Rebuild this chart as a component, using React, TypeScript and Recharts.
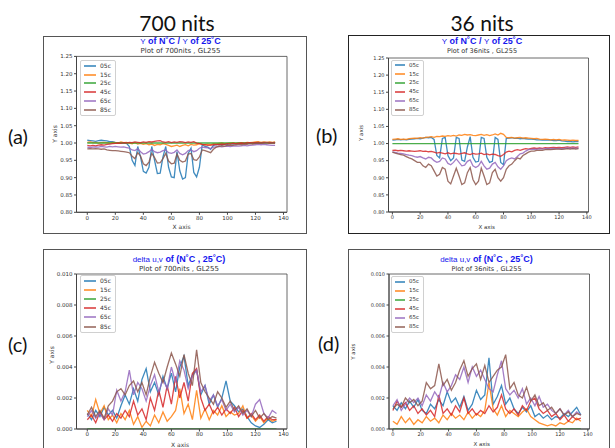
import React from 'react'
import { LineChart, Line, XAxis, YAxis, Legend, ReferenceArea } from 'recharts'

// series names / colours (matplotlib tab10)
const SERIES = ['05c', '15c', '25c', '45c', '65c', '85c']
const COLORS = ['#1f77b4', '#ff7f0e', '#2ca02c', '#d62728', '#9467bd', '#8c564b']

const X_TICKS = [0, 20, 40, 60, 80, 100, 120, 140]
const RATIO_TICKS = [0.8, 0.85, 0.9, 0.95, 1.0, 1.05, 1.1, 1.15, 1.2, 1.25]
// delta u,v ticks, in units of 0.001
const DUV_TICKS = [0, 2, 4, 6, 8, 10]

// x positions for the ratio plots (a, b)
const X_RATIO = [
  0, 2, 4, 6, 8, 10, 12, 14, 16, 18,
  20, 22, 24, 26, 28, 30, 32, 34, 36, 38,
  40, 42, 44, 46, 48, 50, 52, 54, 56, 58,
  60, 62, 64, 66, 68, 70, 72, 74, 76, 78,
  80, 82, 84, 86, 88, 90, 92, 94, 96, 98,
  100, 102, 104, 106, 108, 110, 112, 114, 116, 118,
  120, 122, 124, 126, 128, 130, 132, 134,
]
// x positions for the delta u,v plots (c, d)
const X_DUV = [
  0, 3, 6, 9, 12, 15, 18, 21, 24, 27,
  30, 33, 36, 39, 42, 45, 48, 51, 54, 57,
  60, 63, 66, 69, 72, 75, 78, 81, 84, 87,
  90, 93, 96, 99, 102, 105, 108, 111, 114, 117,
  120, 123, 126, 129, 132, 135,
]

// (a) Y of N°C / Y of 25°C, 700 nits
const A_05 = [
  1.008, 1.007, 1.006, 1.005, 1.007, 1.008, 1.007, 1.006, 1.004, 1.004,
  1.002, 1.001, 1.000, 1.000, 0.999, 0.990, 0.950, 0.935, 0.990, 0.960,
  0.918, 0.913, 0.930, 0.990, 0.950, 0.912, 0.913, 0.960, 0.990, 0.930,
  0.902, 0.900, 0.975, 0.920, 0.896, 0.900, 0.970, 0.985, 0.915, 0.902,
  0.930, 0.995, 0.990, 0.988, 0.982, 0.993, 0.995, 0.996, 0.995, 0.997,
  0.996, 0.998, 0.997, 0.998, 0.999, 0.998, 0.999, 1.000, 0.999, 1.000,
  1.001, 1.000, 1.001, 1.002, 1.001, 1.002, 1.001, 1.002,
]
const A_15 = [
  1.002, 1.003, 1.001, 1.002, 1.000, 1.001, 1.002, 1.001, 1.000, 1.002,
  1.001, 1.000, 1.003, 1.001, 1.002, 1.000, 0.998, 1.001, 0.997, 0.999,
  0.996, 0.998, 0.995, 0.997, 0.993, 0.996, 0.995, 0.998, 0.996, 0.993,
  0.990, 0.992, 0.994, 0.990, 0.993, 0.995, 0.992, 0.996, 0.994, 0.995,
  0.998, 0.996, 0.995, 0.997, 0.995, 0.998, 0.997, 0.999, 1.000, 0.998,
  0.999, 1.000, 1.001, 0.999, 1.000, 1.001, 1.000, 1.002, 1.001, 1.002,
  1.003, 1.004, 1.002, 1.003, 1.002, 1.003, 1.002, 1.003,
]
const A_25 = [
  1.000, 1.000, 1.000, 1.000, 1.000, 1.000, 1.000, 1.000, 1.000, 1.000,
  1.000, 1.000, 1.000, 1.000, 1.000, 1.000, 1.000, 1.000, 1.000, 1.000,
  1.000, 1.000, 1.000, 1.000, 1.000, 1.000, 1.000, 1.000, 1.000, 1.000,
  1.000, 1.000, 1.000, 1.000, 1.000, 1.000, 1.000, 1.000, 1.000, 1.000,
  1.000, 1.000, 1.000, 1.000, 1.000, 1.000, 1.000, 1.000, 1.000, 1.000,
  1.000, 1.000, 1.000, 1.000, 1.000, 1.000, 1.000, 1.000, 1.000, 1.000,
  1.000, 1.000, 1.000, 1.000, 1.000, 1.000, 1.000, 1.000,
]
const A_45 = [
  0.993, 0.992, 0.993, 0.992, 0.994, 0.995, 0.994, 0.996, 0.997, 0.998,
  0.999, 1.000, 0.999, 1.001, 1.000, 1.002, 1.001, 1.003, 1.002, 1.001,
  1.003, 1.002, 1.004, 1.003, 1.005, 1.006, 1.007, 1.003, 1.002, 1.004,
  1.001, 1.003, 1.002, 1.004, 1.003, 1.001, 1.003, 1.002, 1.004, 1.000,
  0.998, 0.996, 0.995, 0.993, 0.994, 0.995, 0.996, 0.995, 0.997, 0.996,
  0.998, 0.997, 0.999, 0.998, 0.999, 1.000, 0.999, 1.000, 1.001, 1.000,
  1.001, 1.002, 1.000, 1.001, 1.002, 1.000, 1.001, 1.000,
]
const A_65 = [
  0.988, 0.987, 0.988, 0.989, 0.988, 0.990, 0.989, 0.988, 0.990, 0.989,
  0.990, 0.989, 0.988, 0.989, 0.987, 0.985, 0.980, 0.978, 0.984, 0.975,
  0.968, 0.970, 0.975, 0.982, 0.975, 0.972, 0.974, 0.978, 0.980, 0.972,
  0.970, 0.973, 0.980, 0.970, 0.966, 0.970, 0.978, 0.980, 0.975, 0.978,
  0.985, 0.988, 0.987, 0.986, 0.984, 0.988, 0.989, 0.990, 0.989, 0.990,
  0.991, 0.990, 0.991, 0.992, 0.991, 0.992, 0.993, 0.992, 0.993, 0.994,
  0.995, 0.996, 0.995, 0.996, 0.995, 0.994, 0.993, 0.993,
]
const A_85 = [
  0.983, 0.984, 0.983, 0.984, 0.983, 0.982, 0.983, 0.980, 0.979, 0.978,
  0.978, 0.977, 0.976, 0.975, 0.974, 0.972, 0.962, 0.955, 0.972, 0.962,
  0.940, 0.935, 0.945, 0.970, 0.958, 0.942, 0.943, 0.955, 0.970, 0.948,
  0.940, 0.942, 0.968, 0.950, 0.945, 0.948, 0.968, 0.970, 0.952, 0.950,
  0.960, 0.980, 0.978, 0.975, 0.972, 0.982, 0.988, 0.990, 0.992, 0.991,
  0.993, 0.994, 0.993, 0.995, 0.996, 0.995, 0.997, 0.996, 0.998, 0.997,
  0.999, 1.000, 0.999, 1.000, 1.001, 0.999, 1.000, 1.000,
]

// (b) Y of N°C / Y of 25°C, 36 nits
const B_05 = [
  1.010, 1.011, 1.012, 1.011, 1.012, 1.011, 1.012, 1.013, 1.014, 1.015,
  1.014, 1.016, 1.018, 1.017, 1.018, 1.012, 0.965, 0.958, 1.015, 1.018,
  0.965, 0.950, 0.958, 1.018, 1.015, 0.952, 0.948, 0.990, 1.020, 0.960,
  0.946, 0.948, 1.018, 1.015, 0.960, 0.945, 0.948, 1.018, 1.012, 0.945,
  0.938, 1.015, 1.016, 1.017, 1.015, 1.016, 1.014, 1.015, 1.014, 1.013,
  1.013, 1.012, 1.011, 1.011, 1.010, 1.010, 1.011, 1.010, 1.009, 1.009,
  1.010, 1.008, 1.007, 1.006, 1.006, 1.005, 1.006, 1.006,
]
const B_15 = [
  1.012, 1.013, 1.014, 1.012, 1.013, 1.012, 1.014, 1.015, 1.016, 1.015,
  1.017, 1.016, 1.018, 1.019, 1.020, 1.018, 1.021, 1.020, 1.022, 1.021,
  1.023, 1.022, 1.024, 1.022, 1.025, 1.024, 1.027, 1.025, 1.026, 1.024,
  1.023, 1.025, 1.027, 1.024, 1.026, 1.023, 1.025, 1.028, 1.025, 1.030,
  1.027, 1.018, 1.017, 1.018, 1.016, 1.017, 1.018, 1.016, 1.017, 1.016,
  1.015, 1.014, 1.015, 1.013, 1.012, 1.013, 1.012, 1.011, 1.012, 1.011,
  1.012, 1.010, 1.011, 1.010, 1.009, 1.010, 1.009, 1.009,
]
const B_25 = [
  1.000, 1.000, 1.000, 1.000, 1.000, 1.000, 1.000, 1.000, 1.000, 1.000,
  1.000, 1.000, 1.000, 1.000, 1.000, 1.000, 1.000, 1.000, 1.000, 1.000,
  1.000, 1.000, 1.000, 1.000, 1.000, 1.000, 1.000, 1.000, 1.000, 1.000,
  1.000, 1.000, 1.000, 1.000, 1.000, 1.000, 1.000, 1.000, 1.000, 1.000,
  1.000, 1.000, 1.000, 1.000, 1.000, 1.000, 1.000, 1.000, 1.000, 1.000,
  1.000, 1.000, 1.000, 1.000, 1.000, 1.000, 1.000, 1.000, 1.000, 1.000,
  1.000, 1.000, 1.000, 1.000, 1.000, 1.000, 1.000, 1.000,
]
const B_45 = [
  0.980, 0.981, 0.979, 0.980, 0.979, 0.978, 0.979, 0.978, 0.977, 0.978,
  0.979, 0.977, 0.978, 0.976, 0.977, 0.975, 0.972, 0.974, 0.972, 0.970,
  0.973, 0.970, 0.972, 0.971, 0.969, 0.971, 0.973, 0.970, 0.968, 0.971,
  0.969, 0.970, 0.972, 0.968, 0.970, 0.967, 0.969, 0.968, 0.965, 0.963,
  0.968, 0.975, 0.978, 0.976, 0.980, 0.982, 0.980, 0.983, 0.985, 0.984,
  0.986, 0.987, 0.986, 0.987, 0.986, 0.988, 0.987, 0.988, 0.989, 0.988,
  0.989, 0.988, 0.989, 0.990, 0.989, 0.990, 0.989, 0.990,
]
const B_65 = [
  0.976, 0.974, 0.972, 0.971, 0.970, 0.968, 0.966, 0.965, 0.962, 0.960,
  0.962, 0.958, 0.955, 0.960, 0.958, 0.950, 0.945, 0.948, 0.958, 0.955,
  0.942, 0.938, 0.945, 0.955, 0.945, 0.935, 0.937, 0.948, 0.952, 0.935,
  0.930, 0.935, 0.948, 0.935, 0.925, 0.928, 0.940, 0.945, 0.932, 0.925,
  0.935, 0.950, 0.955, 0.958, 0.955, 0.962, 0.970, 0.972, 0.978, 0.982,
  0.983, 0.984, 0.983, 0.985, 0.984, 0.985, 0.986, 0.985, 0.986, 0.985,
  0.986, 0.985, 0.986, 0.987, 0.986, 0.987, 0.986, 0.987,
]
const B_85 = [
  0.975, 0.972, 0.970, 0.968, 0.966, 0.962, 0.958, 0.955, 0.950, 0.945,
  0.945, 0.935, 0.930, 0.940, 0.935, 0.920, 0.905, 0.910, 0.930, 0.925,
  0.890, 0.882, 0.905, 0.928, 0.905, 0.880, 0.885, 0.915, 0.930, 0.895,
  0.880, 0.890, 0.928, 0.905, 0.880, 0.885, 0.915, 0.925, 0.900, 0.890,
  0.900, 0.925, 0.935, 0.940, 0.950, 0.958, 0.955, 0.965, 0.970, 0.975,
  0.978, 0.978, 0.980, 0.981, 0.980, 0.982, 0.983, 0.982, 0.983, 0.984,
  0.984, 0.983, 0.984, 0.985, 0.984, 0.985, 0.984, 0.985,
]

// (c) delta u,v of (N°C, 25°C), 700 nits — values in 0.001
const C_05 = [
  1.0, 0.6, 1.2, 0.8, 1.4, 0.9, 1.2, 0.7, 1.5, 2.2,
  1.6, 2.6, 1.8, 3.2, 3.9, 2.4, 3.0, 2.2, 3.4, 2.6,
  3.6, 2.4, 4.0, 4.7, 2.8, 3.5, 3.8, 2.2, 2.8, 1.6,
  2.2, 1.4, 2.0, 3.1, 1.8, 1.5, 1.1, 1.3, 0.8, 0.4,
  0.2, 0.1, 0.3, 0.6, 0.4, 0.5,
]
const C_15 = [
  1.2, 0.8, 1.9, 1.0, 1.5, 0.6, 0.9, 0.4, 1.0, 0.6,
  1.2, 0.3, 0.8, 0.1, 0.5, 0.2, 0.9, 0.4, 1.1, 0.5,
  0.8, 1.2, 2.6, 1.0, 1.6, 0.6, 2.5, 0.7, 1.3, 0.6,
  1.2, 0.9, 1.5, 0.8, 1.1, 0.9, 1.0, 1.5, 0.7, 0.9,
  0.5, 0.8, 0.4, 0.7, 0.5, 0.6,
]
const C_25 = [
  0, 0, 0, 0, 0, 0, 0, 0, 0, 0,
  0, 0, 0, 0, 0, 0, 0, 0, 0, 0,
  0, 0, 0, 0, 0, 0, 0, 0, 0, 0,
  0, 0, 0, 0, 0, 0, 0, 0, 0, 0,
  0, 0, 0, 0, 0, 0,
]
const C_45 = [
  0.6, 0.9, 0.4, 1.1, 0.6, 0.9, 0.5, 1.0, 0.7, 1.2,
  0.8, 1.8, 0.9, 1.3, 0.6, 2.0, 1.2, 2.5, 1.4, 2.8,
  1.6, 3.4, 2.0, 3.0, 1.8, 3.6, 3.9, 2.0, 1.2, 1.6,
  1.0, 1.4, 0.9, 1.3, 1.0, 1.4, 0.8, 1.2, 0.7, 1.0,
  0.6, 0.9, 0.5, 0.8, 0.6, 0.6,
]
const C_65 = [
  0.8, 1.2, 0.7, 1.0, 0.6, 1.3, 0.9, 2.5, 1.8, 2.4,
  3.8, 2.2, 3.0, 2.6, 1.8, 2.8, 3.5, 2.4, 3.2, 2.6,
  4.0, 3.0, 4.4, 3.8, 2.6, 3.4, 3.8, 2.4, 2.8, 1.8,
  2.2, 1.5, 1.9, 1.2, 1.6, 1.1, 1.4, 0.9, 1.2, 0.8,
  1.6, 1.9, 1.0, 0.7, 1.2, 1.0,
]
const C_85 = [
  0.9, 1.4, 0.8, 1.2, 0.7, 1.5, 1.8, 2.4, 2.6, 2.2,
  2.8, 3.1, 2.4, 3.0, 2.2, 3.4, 4.3, 3.6, 3.0, 4.0,
  4.9, 4.2, 3.4, 4.8, 3.6, 2.8, 5.1, 3.0, 2.4, 2.0,
  1.6, 2.4, 2.0, 1.4, 1.8, 1.2, 1.5, 1.0, 1.3, 0.8,
  1.2, 0.7, 1.0, 0.6, 0.8, 0.7,
]

// (d) delta u,v of (N°C, 25°C), 36 nits — values in 0.001
const D_05 = [
  1.5, 1.2, 1.7, 1.3, 1.8, 1.4, 1.9, 1.2, 1.0, 1.6,
  1.3, 1.9, 1.5, 2.4, 1.7, 2.0, 1.4, 2.1, 1.2, 1.6,
  2.5, 1.9, 2.2, 4.6, 1.6, 2.1, 2.8, 1.6, 2.0, 1.3,
  1.0, 1.4, 1.1, 1.5, 0.8, 1.0, 0.7, 0.9, 0.6, 0.8,
  0.7, 1.0, 0.8, 1.1, 1.4, 0.9,
]
const D_15 = [
  0.5, 0.3, 0.8, 0.4, 0.7, 0.3, 0.6, 0.4, 0.8, 0.5,
  0.7, 0.4, 0.9, 0.6, 1.0, 0.7, 0.9, 0.6, 1.1, 0.7,
  1.0, 0.8, 1.2, 3.0, 1.3, 0.9, 1.5, 0.8, 1.2, 1.0,
  0.8, 1.1, 1.3, 0.8, 0.6, 0.4, 0.3, 0.2, 0.3, 0.2,
  0.4, 0.3, 0.5, 0.4, 0.7, 0.5,
]
const D_25 = [
  0, 0, 0, 0, 0, 0, 0, 0, 0, 0,
  0, 0, 0, 0, 0, 0, 0, 0, 0, 0,
  0, 0, 0, 0, 0, 0, 0, 0, 0, 0,
  0, 0, 0, 0, 0, 0, 0, 0, 0, 0,
  0, 0, 0, 0, 0, 0,
]
const D_45 = [
  1.2, 1.8, 1.4, 1.7, 1.2, 1.5, 1.0, 1.3, 0.9, 1.2,
  0.8, 2.2, 1.0, 1.3, 0.9, 1.5, 1.1, 2.0, 1.0, 1.3,
  0.9, 1.2, 1.0, 1.5, 1.1, 1.4, 2.2, 1.3, 1.0, 1.3,
  0.9, 1.5, 1.2, 1.8, 2.0, 1.3, 1.0, 1.2, 0.8, 1.0,
  0.6, 0.9, 0.5, 0.8, 0.6, 0.7,
]
const D_65 = [
  1.5, 1.9, 1.2, 1.6, 2.0, 1.7, 2.0, 1.5, 2.2, 1.8,
  2.4, 2.0, 3.0, 2.4, 2.8, 3.5, 3.2, 4.0, 3.0, 4.0,
  3.4, 3.8, 3.2, 2.6, 2.4, 3.5, 4.4, 2.6, 2.2, 2.5,
  2.0, 2.6, 1.6, 2.0, 1.5, 2.1, 1.4, 1.6, 1.2, 1.0,
  1.3, 0.9, 1.2, 0.8, 1.1, 0.9,
]
const D_85 = [
  1.3, 1.6, 1.4, 2.0, 1.7, 1.9, 1.5, 1.8, 3.0, 2.6,
  2.8, 4.2, 2.8, 3.2, 2.5, 3.0, 3.8, 4.4, 3.4, 3.9,
  4.2, 3.2, 4.1, 3.0, 3.4, 3.8, 4.0, 4.8, 2.6, 3.0,
  2.2, 2.0, 2.7, 1.8, 2.2, 1.5, 1.7, 1.2, 1.4, 1.0,
  1.3, 0.9, 1.1, 0.8, 1.0, 0.9,
]

function buildRows(xs: number[], cols: number[][]) {
  return xs.map((x, i) => {
    const row: Record<string, number> = { x }
    SERIES.forEach((s, k) => { row[s] = cols[k][i] })
    return row
  })
}

const TICK_FONT = 'DejaVu Sans'

interface Rect { x: number; y: number; w: number; h: number }
interface PlotRect { l: number; t: number; r: number; b: number }

interface PanelProps {
  box: Rect
  plot: PlotRect
  xDomain: [number, number]
  yDomain: [number, number]
  yTicks: number[]
  yFmt: (v: number) => string
  rows: Record<string, number>[]
  fontSize: number
  legendFont: number
  legendSwatch: number
  rowH: number
  legendAt: { x: number; y: number }
  border: string
}

function LegendBox({ payload, fontSize, swatch, rowH }: any) {
  return (
    <div style={{
      border: '0.6px solid #d0d0d0', borderRadius: 2, background: 'rgba(255,255,255,0.85)',
      padding: '0.5px 4px 0.5px 3px', fontFamily: TICK_FONT, fontSize, color: '#333',
    }}>
      {(payload || []).map((p: any) => (
        <div key={p.value} style={{ display: 'flex', alignItems: 'center', height: rowH }}>
          <svg width={swatch} height={4} style={{ display: 'block' }}>
            <line x1={0} y1={2} x2={swatch} y2={2} stroke={p.color} strokeWidth={1.4} />
          </svg>
          <span style={{ marginLeft: 4, lineHeight: 1 }}>{p.value}</span>
        </div>
      ))}
    </div>
  )
}

function Panel(props: PanelProps) {
  const { box, plot, xDomain, yDomain, yTicks, yFmt, rows, fontSize, legendFont, legendSwatch, rowH, legendAt, border } = props
  const tick = { fontSize, fill: '#333', fontFamily: TICK_FONT }
  return (
    <>
      <div style={{ position: 'absolute', left: box.x, top: box.y, width: box.w, height: box.h, border, boxSizing: 'border-box' }} />
      <div style={{ position: 'absolute', left: box.x, top: box.y }}>
        <LineChart
          width={box.w}
          height={box.h}
          data={rows}
          margin={{ top: plot.t - box.y, right: box.x + box.w - plot.r, bottom: 0, left: 0 }}
        >
          <XAxis
            type="number" dataKey="x" domain={xDomain} ticks={X_TICKS} interval={0}
            allowDataOverflow height={box.y + box.h - plot.b}
            tickSize={2.5} tickMargin={1} tick={tick} stroke="#444"
          />
          <YAxis
            type="number" domain={yDomain} ticks={yTicks} interval={0} tickFormatter={yFmt}
            allowDataOverflow width={plot.l - box.x}
            tickSize={2.5} tickMargin={1.5} tick={tick} stroke="#444"
          />
          <ReferenceArea
            x1={xDomain[0]} x2={xDomain[1]} y1={yDomain[0]} y2={yDomain[1]}
            fill="none" fillOpacity={0} stroke="#444" strokeWidth={0.8} ifOverflow="visible"
          />
          {SERIES.map((s, k) => (
            <Line
              key={s} type="linear" dataKey={s} name={s} stroke={COLORS[k]}
              strokeWidth={1.3} strokeOpacity={0.85} dot={false} isAnimationActive={false}
            />
          ))}
          <Legend
            layout="horizontal" verticalAlign="middle" align="center"
            wrapperStyle={{ left: legendAt.x - box.x, top: legendAt.y - box.y, width: 'auto', height: 'auto' }}
            content={(p: any) => <LegendBox payload={p.payload} fontSize={legendFont} swatch={legendSwatch} rowH={rowH} />}
          />
        </LineChart>
      </div>
    </>
  )
}

const ratioFmt = (v: number) => v.toFixed(2)
const duvFmt = (v: number) => (v / 1000).toFixed(3)

const TITLE_BLUE = '#1515ee'

function PanelTitle({ cx, y, light, sub, subSize }: { cx: number; y: number; light: string; sub: string; subSize: number }) {
  return (
    <>
      <text x={cx} y={y} textAnchor="middle" fill={TITLE_BLUE} fontFamily="Liberation Sans" fontSize={9} fontWeight="bold">
        {light.split('|').map((part, i) => (
          i % 2 === 0
            ? <tspan key={i} fontWeight="normal" fontSize={8}>{part}</tspan>
            : <tspan key={i}>{part}</tspan>
        ))}
      </text>
      <text x={cx} y={y + 9} textAnchor="middle" fill="#333" fontFamily={TICK_FONT} fontSize={subSize}>{sub}</text>
    </>
  )
}

function AxisLabels({ xc, xy, yx, yc, size }: { xc: number; xy: number; yx: number; yc: number; size: number }) {
  return (
    <>
      <text x={xc} y={xy + 2.2} textAnchor="middle" fill="#333" fontFamily={TICK_FONT} fontSize={size}>X axis</text>
      <text x={yx} y={yc} textAnchor="middle" dominantBaseline="central" fill="#333" fontFamily={TICK_FONT} fontSize={size}
        transform={`rotate(-90, ${yx}, ${yc})`}>Y axis</text>
    </>
  )
}

export default function App() {
  const rowsA = buildRows(X_RATIO, [A_05, A_15, A_25, A_45, A_65, A_85])
  const rowsB = buildRows(X_RATIO, [B_05, B_15, B_25, B_45, B_65, B_85])
  const rowsC = buildRows(X_DUV, [C_05, C_15, C_25, C_45, C_65, C_85])
  const rowsD = buildRows(X_DUV, [D_05, D_15, D_25, D_45, D_65, D_85])

  const leftX: [number, number] = [-7.7, 142.5]
  const rightX: [number, number] = [-2.8, 141.2]

  return (
    <div style={{ position: 'absolute', left: 0, top: 0, width: 615, height: 448, overflow: 'hidden', background: '#fff' }}>
      <Panel
        box={{ x: 43, y: 36, w: 264, h: 198 }} plot={{ l: 76.5, t: 56.4, r: 287, b: 212.3 }}
        xDomain={leftX} yDomain={[0.8, 1.25]} yTicks={RATIO_TICKS} yFmt={ratioFmt} rows={rowsA}
        fontSize={5.5} legendFont={6} legendSwatch={12} rowH={8.8} legendAt={{ x: 80, y: 60 }}
        border="1px solid #555"
      />
      <Panel
        box={{ x: 348, y: 35, w: 262, h: 199 }} plot={{ l: 388.5, t: 58, r: 588.5, b: 212 }}
        xDomain={rightX} yDomain={[0.8, 1.25]} yTicks={RATIO_TICKS} yFmt={ratioFmt} rows={rowsB}
        fontSize={5} legendFont={5.5} legendSwatch={10} rowH={8.9} legendAt={{ x: 391, y: 59.5 }}
        border="1.5px solid #222"
      />
      <Panel
        box={{ x: 43, y: 249, w: 264, h: 210 }} plot={{ l: 76.5, t: 274, r: 287, b: 429 }}
        xDomain={leftX} yDomain={[0, 10]} yTicks={DUV_TICKS} yFmt={duvFmt} rows={rowsC}
        fontSize={5.5} legendFont={6} legendSwatch={12} rowH={9.1} legendAt={{ x: 80, y: 275 }}
        border="1px solid #555"
      />
      <Panel
        box={{ x: 348, y: 249, w: 262, h: 210 }} plot={{ l: 389, t: 274, r: 589.5, b: 429 }}
        xDomain={rightX} yDomain={[0, 10]} yTicks={DUV_TICKS} yFmt={duvFmt} rows={rowsD}
        fontSize={5} legendFont={5.5} legendSwatch={10} rowH={9} legendAt={{ x: 391, y: 275.5 }}
        border="1px solid #555"
      />

      <svg width={615} height={448} style={{ position: 'absolute', left: 0, top: 0, pointerEvents: 'none' }}>
        <text x={177} y={31} textAnchor="middle" fontFamily="Lato" fontSize={21} fill="#111">700 nits</text>
        <text x={482} y={31} textAnchor="middle" fontFamily="Lato" fontSize={21} fill="#111">36 nits</text>

        <text x={8} y={143.5} fontFamily="Lato" fontSize={20} fill="#111">(a)</text>
        <text x={316} y={143} fontFamily="Lato" fontSize={20} fill="#111">(b)</text>
        <text x={8} y={352} fontFamily="Lato" fontSize={20} fill="#111">(c)</text>
        <text x={318} y={351} fontFamily="Lato" fontSize={20} fill="#111">(d)</text>

        <PanelTitle cx={180.5} y={44.2} light="Y| of N˚C / |Y| of 25˚C" sub="Plot of 700nits , GL255" subSize={7} />
        <PanelTitle cx={482} y={44.2} light="Y| of N˚C / |Y| of 25˚C" sub="Plot of 36nits , GL255" subSize={6.5} />
        <PanelTitle cx={179} y={261.5} light="delta u,v| of (N˚C , 25˚C)" sub="Plot of 700nits , GL255" subSize={7} />
        <PanelTitle cx={486.5} y={261.5} light="delta u,v| of (N˚C , 25˚C)" sub="Plot of 36nits , GL255" subSize={6.5} />

        <AxisLabels xc={181.5} xy={226.7} yx={54.3} yc={134} size={6} />
        <AxisLabels xc={486.7} xy={226.7} yx={360.7} yc={133} size={5.5} />
        <AxisLabels xc={180} xy={445} yx={51.7} yc={355} size={6} />
        <AxisLabels xc={481.7} xy={444} yx={352.7} yc={351.7} size={5.5} />
      </svg>
    </div>
  )
}
